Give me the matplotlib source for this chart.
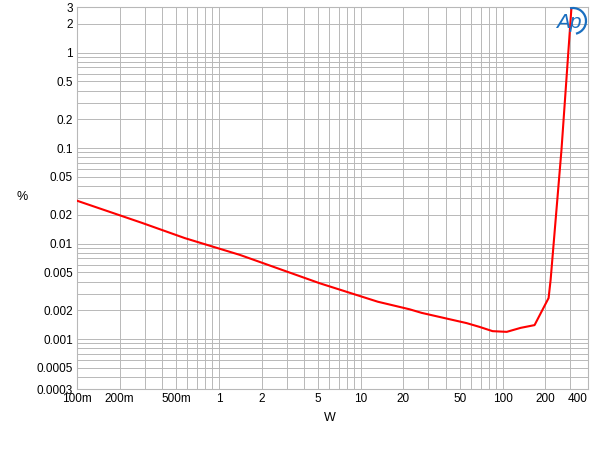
import matplotlib
matplotlib.use('Agg')
from matplotlib import pyplot as plt
from matplotlib.patches import Arc

plt.rcParams['font.family'] = ['Liberation Sans', 'DejaVu Sans']

# power (W) vs THD+N (%)
watts = [0.1, 0.286, 0.576, 1.41, 5.14, 13.2, 22.1, 26.9, 55.7, 68.9, 85.0,
         107.0, 134.0, 168.0, 211.0, 218.0, 260.0, 306.0, 320.0]
thd = [0.0281, 0.0165, 0.0114, 0.0076, 0.00384, 0.00246, 0.00205, 0.00188,
       0.00147, 0.00134, 0.00121, 0.00119, 0.00131, 0.0014, 0.00269, 0.00415,
       0.0954, 3.0, 4.5]

x_ticks = [0.1, 0.2, 0.5, 1, 2, 5, 10, 20, 50, 100, 200, 400]
x_labels = ['100m', '200m', '500m', '1', '2', '5', '10', '20', '50', '100', '200', '400']
y_ticks = [3, 2, 1, 0.5, 0.2, 0.1, 0.05, 0.02, 0.01, 0.005, 0.002, 0.001, 0.0005, 0.0003]
y_labels = ['3', '2', '1', '0.5', '0.2', '0.1', '0.05', '0.02', '0.01', '0.005',
            '0.002', '0.001', '0.0005', '0.0003']

fig = plt.figure(figsize=(6, 4.51), dpi=100)
ax = fig.add_axes([77 / 600, 1 - 389 / 451, 511 / 600, 382 / 451])
ax.set_xscale('log')
ax.set_yscale('log')
ax.set_xlim(0.1, 400)
ax.set_ylim(0.0003, 3)

ax.plot(watts, thd, color='#ff0000', lw=1.5, zorder=3)

ax.set_xticks(x_ticks)
ax.set_xticklabels(x_labels, fontsize=8.5)
ax.set_yticks(y_ticks)
ax.set_yticklabels(y_labels, fontsize=8.5)
ax.xaxis.set_minor_locator(matplotlib.ticker.LogLocator(base=10, subs=range(2, 10), numticks=20))
ax.yaxis.set_minor_locator(matplotlib.ticker.LogLocator(base=10, subs=range(2, 10), numticks=20))
ax.xaxis.set_minor_formatter(matplotlib.ticker.NullFormatter())
ax.yaxis.set_minor_formatter(matplotlib.ticker.NullFormatter())
ax.tick_params(which='both', length=0, pad=3)
ax.xaxis.get_majorticklabels()[-1].set_horizontalalignment('right')

ax.grid(True, which='both', color='#b8b8b8', lw=0.7)
for s in ax.spines.values():
    s.set_color('#b8b8b8')
    s.set_linewidth(0.8)

fig.text(22 / 600, 1 - 197 / 451, '%', fontsize=9, ha='center', va='center')
fig.text(330 / 600, 1 - 418 / 451, 'W', fontsize=9, ha='center', va='center')

# Audio Precision logo
fig.text(569 / 600, 1 - 22 / 451, 'Ap', fontsize=15, color='#1a6fc0',
         style='italic', ha='center', va='center')
arc = Arc((573 / 600, 1 - 21 / 451), 26 / 600, 26 / 451, theta1=-80, theta2=100,
          transform=fig.transFigure, color='#1a6fc0', lw=1.6)
fig.add_artist(arc)

fig.savefig('out.png', dpi=100)
